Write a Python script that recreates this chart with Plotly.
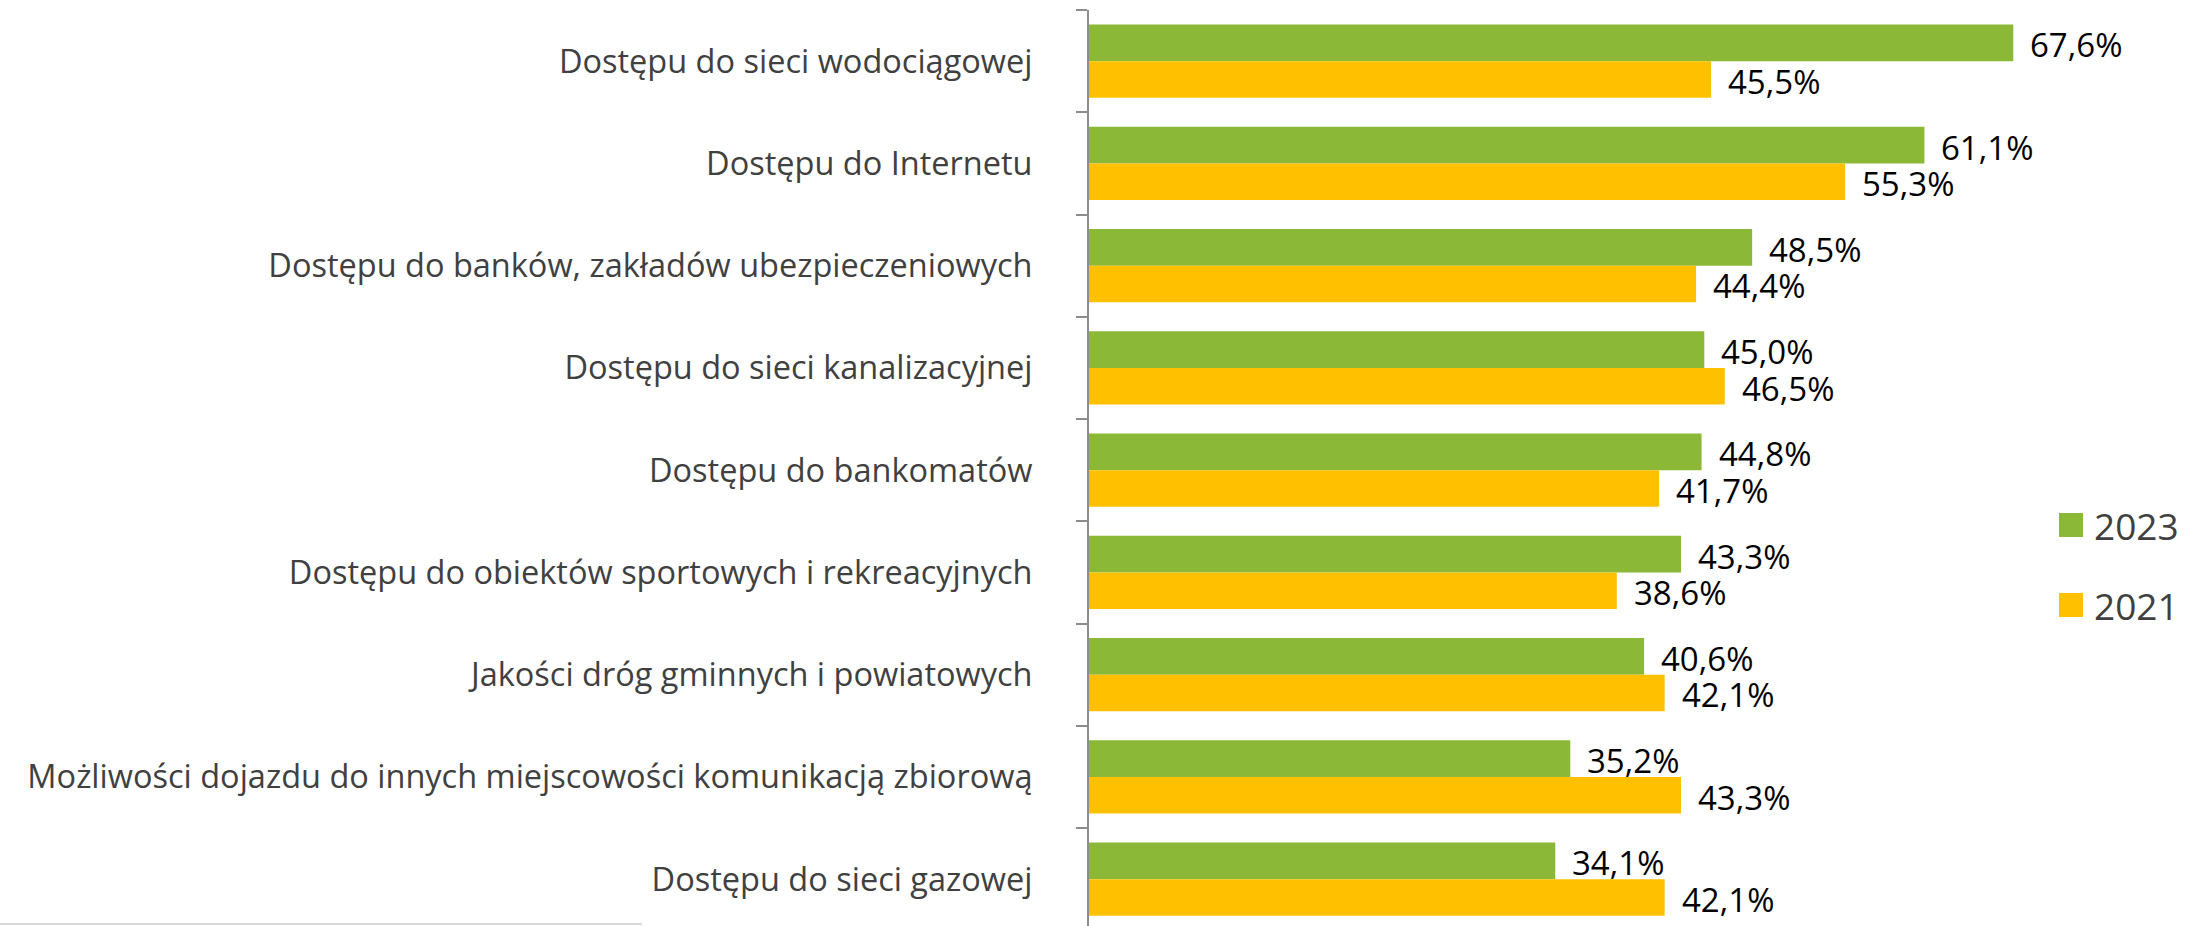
import plotly.graph_objects as go

# Categories (top to bottom) and survey shares in percent
categories = [
    "Dostępu do sieci wodociągowej",
    "Dostępu do Internetu",
    "Dostępu do banków, zakładów ubezpieczeniowych",
    "Dostępu do sieci kanalizacyjnej",
    "Dostępu do bankomatów",
    "Dostępu do obiektów sportowych i rekreacyjnych",
    "Jakości dróg gminnych i powiatowych",
    "Możliwości dojazdu do innych miejscowości komunikacją zbiorową",
    "Dostępu do sieci gazowej",
]
values_2023 = [67.6, 61.1, 48.5, 45.0, 44.8, 43.3, 40.6, 35.2, 34.1]
values_2021 = [45.5, 55.3, 44.4, 46.5, 41.7, 38.6, 42.1, 43.3, 42.1]
series_names = ["2023", "2021"]

GREEN = "#8BB836"
YELLOW = "#FFC000"
TEXT_GRAY = "#404040"

W, H = 2201, 926
ML, MR, MT, MB = 1089, 51, 10, 0
plot_w = W - ML - MR
plot_h = H - MT - MB
PX_PER_UNIT = 13.673
CAT_PX = 102.25


def fmt(v):
    return f"{v:.1f}%".replace(".", ",")


def px_x(px):
    return (px - ML) / plot_w


def px_y(py):
    return 1 - (py - MT) / plot_h


fig = go.Figure()
for name, vals, color in [(series_names[0], values_2023, GREEN),
                          (series_names[1], values_2021, YELLOW)]:
    fig.add_trace(go.Bar(
        y=categories, x=vals, name=name, orientation="h",
        marker=dict(color=color, line=dict(width=0)),
        showlegend=False, hoverinfo="x+y",
    ))

bargap = 0.282
bar_px = CAT_PX * (1 - bargap) / 2
annotations = []
for cat, v23, v21 in zip(categories, values_2023, values_2021):
    for v, sh in [(v23, bar_px / 2 - 2), (v21, -bar_px / 2 - 2)]:
        annotations.append(dict(
            x=v, y=cat, xref="x", yref="y", text=fmt(v), showarrow=False,
            xanchor="left", yanchor="middle", xshift=15, yshift=sh,
            font=dict(family="Open Sans", size=33, color="#000000"),
        ))

# Legend drawn as swatches + labels on the right
shapes = []
for name, color, cy in [(series_names[0], GREEN, 525), (series_names[1], YELLOW, 605)]:
    shapes.append(dict(type="rect", xref="paper", yref="paper",
                       x0=px_x(2059), x1=px_x(2083), y0=px_y(cy - 12), y1=px_y(cy + 12),
                       fillcolor=color, line=dict(width=0)))
    annotations.append(dict(x=px_x(2092), y=px_y(cy), xref="paper", yref="paper",
                            text=name, showarrow=False, xanchor="left", yanchor="middle",
                            font=dict(family="Open Sans", size=37, color=TEXT_GRAY)))

# Thin gray rule at the bottom left
shapes.append(dict(type="line", xref="paper", yref="paper",
                   x0=px_x(0), x1=px_x(642), y0=px_y(924), y1=px_y(924),
                   line=dict(color="#D9D9D9", width=2)))

y_bottom = -0.5 + plot_h / CAT_PX

fig.update_layout(
    width=W, height=H,
    margin=dict(l=ML, r=MR, t=MT, b=MB, pad=0),
    barmode="group", bargap=bargap, bargroupgap=0,
    plot_bgcolor="white", paper_bgcolor="white",
    annotations=annotations, shapes=shapes,
    xaxis=dict(range=[0, plot_w / PX_PER_UNIT], showgrid=False, zeroline=False,
               showticklabels=False, showline=False, ticks=""),
    yaxis=dict(type="category", range=[y_bottom, -0.5], showgrid=False,
               zeroline=False, showline=True, linecolor="#8C8C8C", linewidth=2,
               ticks="outside", tickson="boundaries", ticklen=11, tickwidth=2,
               tickcolor="#8C8C8C", ticklabelstandoff=48,
               tickfont=dict(family="Open Sans", size=32.5, color=TEXT_GRAY)),
)

fig.write_html("out.html")
